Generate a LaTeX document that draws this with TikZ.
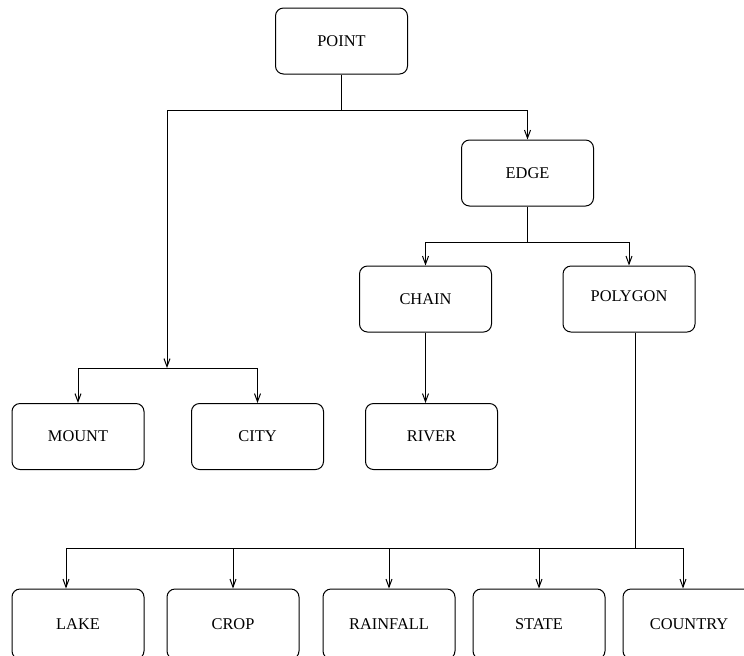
\documentclass[tikz,border=0pt]{standalone}
\usepackage{fontspec}
\setmainfont{Liberation Serif}
\usetikzlibrary{arrows.meta}

\begin{document}
\begin{tikzpicture}[x=0.5pt, y=-0.5pt, >={Straight Barb[length=4pt,width=3pt]}, line width=0.5pt]
\tikzset{
  box/.style={
    draw, rectangle, rounded corners=4pt,
    minimum width=66pt, minimum height=33pt,
    inner sep=0pt, align=center,
    font=\fontsize{8.2}{10}\selectfont
  },
  lowbox/.style={box, minimum height=35pt}
}
\useasboundingbox (0,0) rectangle (744,655);

% Nodes
\node[box] (point)   at (341.5, 41)  {POINT};
\node[box] (edge)    at (527.5, 173) {EDGE};
\node[box] (chain)   at (425.5, 299) {CHAIN};
\node[box] (polygon) at (629, 299)   {\raisebox{3pt}{POLYGON}};
\node[box] (mount)   at (78, 436.5)  {MOUNT};
\node[box] (city)    at (257.5, 436.5) {CITY};
\node[box] (river)   at (431.5, 436.5) {RIVER};
\node[lowbox] (lake)     at (78, 624)  {LAKE};
\node[lowbox] (crop)     at (233, 624) {CROP};
\node[lowbox] (rainfall) at (389, 624) {RAINFALL};
\node[lowbox] (state)    at (539, 624) {STATE};
\node[lowbox] (country)  at (689, 624) {COUNTRY};

% Junctions
\coordinate (jpoint)   at (341.5, 110);
\coordinate (jmount)   at (167, 368);
\coordinate (jedge)    at (527.5, 242);
\coordinate (jpolygon) at (635, 548);

% Connectors
\draw (point.south) -- (jpoint);
\draw[->] (jpoint) -| (edge.north);
\draw[->] (jpoint) -| (jmount);
\draw[->] (jmount) -| (mount.north);
\draw[->] (jmount) -| (city.north);

\draw (edge.south) -- (jedge);
\draw[->] (jedge) -| (chain.north);
\draw[->] (jedge) -| (polygon.north);
\draw[->] (chain.south) -- (chain.south |- river.north);

\draw (polygon.south -| jpolygon) -- (jpolygon);
\draw[->] (jpolygon) -| ([xshift=-6pt]lake.north);
\draw[->] (jpolygon) -| (crop.north);
\draw[->] (jpolygon) -| (rainfall.north);
\draw[->] (jpolygon) -| (state.north);
\draw[->] (jpolygon) -| ([xshift=-3pt]country.north);

\end{tikzpicture}
\end{document}
